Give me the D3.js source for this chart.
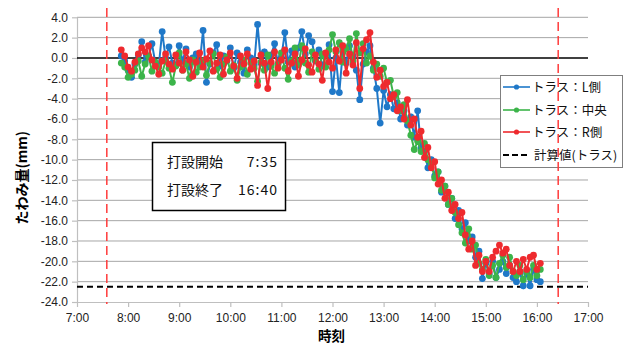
<!DOCTYPE html>
<html>
<head>
<meta charset="utf-8">
<script src="https://cdn.jsdelivr.net/npm/d3@7"></script>
<style>
  html, body { margin: 0; padding: 0; background: #fff; }
  svg { display: block; }
</style>
</head>
<body>
<div id="chart"></div>
<script>
// sampling clock: minutes after midnight, logger every 4 min from 7:52
const startMin = 472;
const stepMin = 4;

const seriesNames = ['トラス：L側', 'トラス：中央', 'トラス：R側'];
const seriesColors = ['#1f78c8', '#3cb44a', '#ee2a2e'];

const trussL = [
  0.2, -0.3, -1.2, -1.9, -0.6, 0.3, 1.6, -0.4, 0.1, 1.4,
  -0.5, -0.8, 2.6, 0.0, 1.1, -0.5, -0.7, 1.2, -0.3, 0.9,
  -0.9, 0.0, 0.4, -0.6, 2.7, -2.4, -0.6, 0.5, 1.3, -0.8,
  0.2, -0.3, 1.0, -1.0, 0.5, -0.4, -1.5, 0.8, 0.0, -0.7,
  3.3, -0.5, 0.6, -0.9, 0.3, 1.4, -0.6, 0.1, 2.5, -0.4,
  0.7, -0.9, 1.0, 2.6, 0.4, 2.2, 1.6, -0.3, 0.8, -0.8,
  0.3, 1.3, -3.3, 0.0, -3.4, 0.6, -0.5, 1.2, 0.2, -1.2,
  -4.1, -0.6, 0.6, 1.2, -1.0, -3.0, -6.4, -3.2, -4.8, -3.6,
  -5.0, -4.4, -6.0, -5.2, -6.6, -5.8, -7.8, -5.2, -8.8, -9.2,
  -10.8, -10.0, -11.6, -11.2, -13.2, -12.6, -14.4, -13.8, -15.8, -15.0,
  -16.8, -16.2, -18.0, -17.6, -19.6, -19.0, -21.7, -20.2, -21.2, -20.0,
  -21.6, -20.8, -20.0, -21.2, -20.4, -21.6, -22.0, -21.0, -22.4, -21.2,
  -22.4, -20.8, -21.8, -22.0
];

const trussC = [
  -0.5, -0.9, -1.9, -1.6, -1.2, -0.3, -1.8, -0.6, 0.2, -1.3,
  -0.4, -0.9, -1.5, -0.3, -1.0, -2.4, -0.8, 0.5, -1.2, -0.6,
  -2.0, -0.2, -1.4, -0.9, -0.3, -1.7, -0.5, 0.4, -1.1, -1.9,
  -0.6, 0.1, -1.3, -0.7, -2.2, -0.9, -0.2, -1.6, -0.5, -1.0,
  -2.3, -0.4, -1.2, 0.3, -0.8, -1.5, -0.6, 0.5, -1.0, -2.1,
  -0.3, 1.0, -0.7, 1.2, -0.5, -1.4, 0.6, -0.2, -1.1, 0.4,
  -0.9, 0.8, 2.3, 0.6, 1.5, -0.4, 0.9, 1.9, -0.3, 2.4,
  0.5, 1.4, -0.5, 0.2, -1.2, -0.6, -1.8, -1.0, -2.4, -2.2,
  -3.8, -3.4, -5.2, -4.6, -6.2, -7.6, -9.0, -8.2, -9.2, -8.4,
  -10.0, -10.4, -11.8, -11.2, -13.0, -12.6, -14.4, -13.8, -15.2, -16.4,
  -17.2, -18.2, -16.8, -18.8, -18.4, -20.2, -20.8, -19.8, -21.4, -20.4,
  -21.6, -20.2, -19.4, -20.6, -19.6, -21.0, -21.4, -20.4, -21.8, -21.0,
  -21.6, -20.4, -21.4, -20.8
];

const trussR = [
  0.8, 0.2, -0.9, -1.3, -0.4, 0.4, 1.0, 0.6, 1.2, -0.2,
  -0.8, -1.6, -0.3, 0.4, -0.6, -1.1, 0.3, -0.5, -1.2, 0.6,
  -0.2, -1.8, -0.4, 0.5, -0.9, -0.1, 0.7, -1.3, -0.5, 0.3,
  -1.6, -0.2, 0.5, -0.8, -2.0, 0.2, -0.6, 0.4, -1.1, -0.3,
  -2.7, 0.3, -0.5, -3.0, -0.4, 0.6, -1.0, -0.2, 0.8, -1.3,
  -0.5, 0.4, -1.8, -0.2, 0.9, -0.7, -1.4, 0.3, -0.6, -2.2,
  0.5, -0.4, -1.0, 0.8, -0.3, 1.2, -1.5, 0.4, -0.7, 1.5,
  -3.0, 0.9, 1.8, 2.5, -0.4, -1.9, -1.2, -2.8, -2.4, -4.0,
  -3.6, -5.2, -4.8, -6.0, -4.1, -6.6, -6.0, -7.8, -7.2, -9.8,
  -8.8, -10.8, -10.2, -12.4, -12.0, -13.8, -13.2, -15.0, -14.4, -15.8,
  -15.2, -17.4, -18.8, -18.0, -20.4, -19.4, -21.0, -20.0, -21.0, -19.6,
  -19.0, -18.4, -19.2, -18.8, -20.4, -21.0, -20.0, -21.0, -19.8, -20.8,
  -19.6, -19.4, -20.8, -20.2
];

const calcValue = -22.5;          // 計算値(トラス)
const pourStart = 7 + 35 / 60;    // red marker lines (hours)
const pourEnd = 16 + 25 / 60;

const xTicks = [7, 8, 9, 10, 11, 12, 13, 14, 15, 16, 17];
const yTicks = [4, 2, 0, -2, -4, -6, -8, -10, -12, -14, -16, -18, -20, -22, -24];

const W = 627, H = 344;
const plot = { left: 77, right: 588, top: 17.3, bottom: 302 };
const numFont = '"Liberation Sans", Arial, sans-serif';
const jpFont = '"Noto Sans CJK JP", "Noto Sans", sans-serif';

const svg = d3.select('#chart').append('svg').attr('width', W).attr('height', H).style('background', '#fff');

const x = d3.scaleLinear().domain([7, 17]).range([plot.left, plot.right]);
const y = d3.scaleLinear().domain([-24, 4]).range([plot.bottom, plot.top]);

// gridlines
svg.append('g')
  .selectAll('line')
  .data(yTicks.filter((v) => v !== -24 && v !== 0))
  .join('line')
  .attr('x1', plot.left).attr('x2', plot.right)
  .attr('y1', (d) => y(d)).attr('y2', (d) => y(d))
  .attr('stroke', '#a6a6a6').attr('stroke-width', 1);

// axes
const yAxis = svg.append('g')
  .attr('transform', `translate(${plot.left},0)`)
  .call(d3.axisLeft(y).tickValues(yTicks).tickFormat((d) => d.toFixed(1)).tickSize(5).tickSizeOuter(0));
const xAxis = svg.append('g')
  .attr('transform', `translate(0,${plot.bottom})`)
  .call(d3.axisBottom(x).tickValues(xTicks).tickFormat((d) => `${d}:00`).tickSize(5).tickSizeOuter(0));
[yAxis, xAxis].forEach((ax) => {
  ax.select('.domain').attr('stroke', '#bfbfbf').attr('stroke-width', 1.2);
  ax.selectAll('.tick line').attr('stroke', '#bfbfbf').attr('stroke-width', 1.2);
  ax.selectAll('.tick text').attr('fill', '#222').attr('font-size', 12).attr('font-family', numFont);
});
yAxis.selectAll('.tick text').attr('x', -9);
xAxis.selectAll('.tick text').attr('y', 11);

// zero line
svg.append('line')
  .attr('x1', plot.left).attr('x2', plot.right)
  .attr('y1', y(0)).attr('y2', y(0))
  .attr('stroke', '#000').attr('stroke-width', 1.6);

// calculated value
svg.append('line')
  .attr('x1', plot.left).attr('x2', plot.right)
  .attr('y1', y(calcValue)).attr('y2', y(calcValue))
  .attr('stroke', '#000').attr('stroke-width', 2).attr('stroke-dasharray', '6 4');

// series
const series = [trussL, trussC, trussR];
const line = d3.line().x((d) => x(d.t)).y((d) => y(d.v));
series.forEach((vals, k) => {
  const pts = vals.map((v, i) => ({ t: (startMin + i * stepMin) / 60, v }));
  const g = svg.append('g');
  g.append('path')
    .attr('d', line(pts))
    .attr('fill', 'none')
    .attr('stroke', seriesColors[k])
    .attr('stroke-width', 2);
  g.selectAll('circle')
    .data(pts)
    .join('circle')
    .attr('cx', (d) => x(d.t))
    .attr('cy', (d) => y(d.v))
    .attr('r', 3.4)
    .attr('fill', seriesColors[k]);
});

// annotation box
const ann = svg.append('g');
ann.append('rect')
  .attr('x', 152.5).attr('y', 142.5).attr('width', 133).attr('height', 68)
  .attr('fill', '#fff').attr('stroke', '#000').attr('stroke-width', 1.5);
[['打設開始', '7:35', 167], ['打設終了', '16:40', 195]].forEach(([lab, val, yy]) => {
  ann.append('text').attr('x', 167).attr('y', yy)
    .attr('font-family', jpFont).attr('font-size', 14).attr('fill', '#111').text(lab);
  ann.append('text').attr('x', 278).attr('y', yy).attr('text-anchor', 'end')
    .attr('font-family', jpFont).attr('font-size', 14).attr('letter-spacing', 1).attr('fill', '#111').text(val);
});

// legend
const leg = svg.append('g');
leg.append('rect')
  .attr('x', 500.5).attr('y', 75.5).attr('width', 122).attr('height', 92)
  .attr('fill', '#fff').attr('stroke', '#7f7f7f').attr('stroke-width', 1);
const legRows = [87, 110, 132];
seriesNames.forEach((name, k) => {
  const yy = legRows[k];
  leg.append('line').attr('x1', 503).attr('x2', 530).attr('y1', yy).attr('y2', yy)
    .attr('stroke', seriesColors[k]).attr('stroke-width', 1.6);
  leg.append('circle').attr('cx', 516.5).attr('cy', yy).attr('r', 2.6).attr('fill', seriesColors[k]);
  leg.append('text').attr('x', 532).attr('y', yy + 4.5)
    .attr('font-family', jpFont).attr('font-size', 12.5).attr('fill', '#111').text(name);
});
leg.append('line').attr('x1', 503).attr('x2', 530).attr('y1', 155).attr('y2', 155)
  .attr('stroke', '#000').attr('stroke-width', 2).attr('stroke-dasharray', '6 3');
leg.append('text').attr('x', 534).attr('y', 159.5)
  .attr('font-family', jpFont).attr('font-size', 12.5).attr('fill', '#111').text('計算値(トラス)');

// pour start / end markers
svg.append('g')
  .selectAll('line')
  .data([pourStart, pourEnd])
  .join('line')
  .attr('x1', (d) => x(d)).attr('x2', (d) => x(d))
  .attr('y1', 8).attr('y2', 304)
  .attr('stroke', '#ff3b3b').attr('stroke-width', 1.5).attr('stroke-dasharray', '9 5');

// axis titles
svg.append('text')
  .attr('transform', `translate(27,${(plot.top + plot.bottom) / 2 + 18}) rotate(-90)`)
  .attr('text-anchor', 'middle')
  .attr('font-family', jpFont).attr('font-weight', 700).attr('font-size', 14).attr('fill', '#000')
  .text('たわみ量(mm)');
svg.append('text')
  .attr('x', (plot.left + plot.right) / 2 - 1).attr('y', 341)
  .attr('text-anchor', 'middle')
  .attr('font-family', jpFont).attr('font-weight', 700).attr('font-size', 13.5).attr('fill', '#000')
  .text('時刻');
</script>
</body>
</html>
